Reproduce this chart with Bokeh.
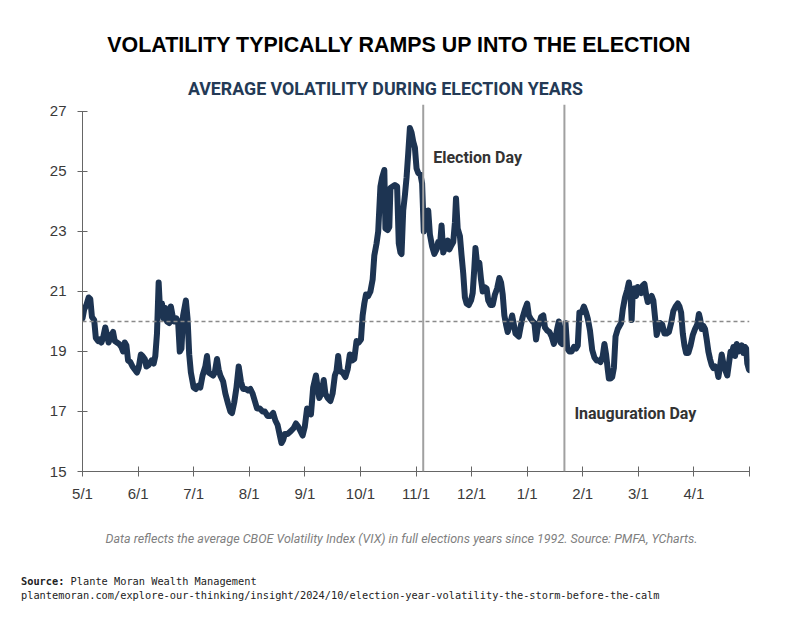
from bokeh.plotting import figure
from bokeh.layouts import column
from bokeh.models import Range1d, FixedTicker, Span, Label
from bokeh.embed import file_html
from bokeh.resources import INLINE

# ---- data: months since May 1 (fractional) and average VIX ----
months = [
    0.00, 0.03, 0.07, 0.11, 0.14, 0.17, 0.21, 0.24, 0.28, 0.31, 0.34, 0.37, 0.41, 0.44, 0.47, 0.51,
    0.55, 0.58, 0.62, 0.66, 0.70, 0.73, 0.76, 0.79, 0.82, 0.86, 0.90, 0.94, 0.98, 1.01, 1.05, 1.08,
    1.12, 1.15, 1.19, 1.24, 1.28, 1.31, 1.34, 1.37, 1.40, 1.43, 1.46, 1.49, 1.52, 1.56, 1.59, 1.62,
    1.65, 1.69, 1.72, 1.75, 1.78, 1.81, 1.86, 1.89, 1.92, 1.95, 2.00, 2.04, 2.08, 2.12, 2.16, 2.21,
    2.24, 2.27, 2.31, 2.35, 2.38, 2.42, 2.45, 2.48, 2.53, 2.57, 2.62, 2.66, 2.69, 2.73, 2.77, 2.81,
    2.85, 2.89, 2.94, 2.98, 3.02, 3.06, 3.10, 3.14, 3.19, 3.24, 3.28, 3.33, 3.38, 3.43, 3.47, 3.51,
    3.55, 3.58, 3.61, 3.64, 3.69, 3.75, 3.80, 3.84, 3.88, 3.92, 3.96, 4.00, 4.04, 4.08, 4.11, 4.15,
    4.20, 4.23, 4.26, 4.30, 4.34, 4.37, 4.41, 4.46, 4.50, 4.54, 4.57, 4.60, 4.63, 4.68, 4.73, 4.77,
    4.81, 4.85, 4.89, 4.93, 4.97, 5.01, 5.04, 5.07, 5.10, 5.14, 5.18, 5.22, 5.25, 5.29, 5.32, 5.36,
    5.39, 5.43, 5.45, 5.49, 5.52, 5.54, 5.58, 5.62, 5.66, 5.69, 5.72, 5.74, 5.77, 5.80, 5.83, 5.86,
    5.89, 5.92, 5.95, 5.98, 6.01, 6.04, 6.08, 6.11, 6.14, 6.18, 6.22, 6.25, 6.29, 6.33, 6.37, 6.40,
    6.43, 6.46, 6.49, 6.53, 6.57, 6.60, 6.64, 6.67, 6.70, 6.72, 6.75, 6.79, 6.82, 6.85, 6.88, 6.91,
    6.95, 6.99, 7.02, 7.05, 7.07, 7.10, 7.14, 7.17, 7.20, 7.23, 7.27, 7.30, 7.34, 7.38, 7.42, 7.46,
    7.50, 7.53, 7.56, 7.59, 7.62, 7.65, 7.69, 7.73, 7.76, 7.79, 7.82, 7.85, 7.88, 7.92, 7.96, 8.00,
    8.03, 8.06, 8.10, 8.13, 8.16, 8.19, 8.22, 8.25, 8.29, 8.32, 8.36, 8.40, 8.44, 8.48, 8.51, 8.54,
    8.57, 8.60, 8.63, 8.66, 8.69, 8.72, 8.76, 8.80, 8.84, 8.88, 8.91, 8.94, 8.98, 9.02, 9.06, 9.09,
    9.13, 9.17, 9.21, 9.25, 9.29, 9.32, 9.36, 9.39, 9.42, 9.45, 9.47, 9.50, 9.53, 9.56, 9.59, 9.63,
    9.66, 9.69, 9.72, 9.76, 9.80, 9.83, 9.86, 9.88, 9.90, 9.93, 9.96, 9.99, 10.02, 10.05, 10.08, 10.11,
    10.14, 10.17, 10.20, 10.24, 10.27, 10.30, 10.33, 10.36, 10.39, 10.43, 10.47, 10.51, 10.55, 10.59, 10.63, 10.67,
    10.71, 10.74, 10.77, 10.80, 10.83, 10.86, 10.90, 10.94, 10.98, 11.02, 11.06, 11.09, 11.11, 11.14, 11.17, 11.20,
    11.23, 11.26, 11.29, 11.32, 11.35, 11.38, 11.41, 11.44, 11.47, 11.50, 11.53, 11.56, 11.60, 11.63, 11.66, 11.69,
    11.71, 11.74, 11.77, 11.80, 11.83, 11.86, 11.89, 11.92, 11.94, 11.96, 11.99, 12.00,
]
vix = [
    20.10, 20.40, 20.55, 20.80, 20.75, 20.15, 20.05, 19.45, 19.35, 19.40, 19.30, 19.45, 19.80, 19.55, 19.30, 19.50,
    19.65, 19.35, 19.30, 19.25, 19.15, 19.00, 19.30, 19.20, 18.70, 18.65, 18.50, 18.40, 18.30, 18.45, 18.90, 18.85,
    18.75, 18.50, 18.55, 18.70, 18.60, 18.85, 19.60, 21.30, 20.20, 20.60, 20.10, 20.45, 20.00, 19.95, 20.50, 20.20,
    20.00, 20.10, 20.00, 19.00, 19.10, 20.20, 20.70, 20.10, 18.90, 18.30, 17.80, 17.75, 17.85, 17.80, 18.20, 18.50,
    18.85, 18.30, 18.25, 18.20, 18.30, 18.75, 18.40, 18.20, 18.00, 17.60, 17.25, 17.00, 16.95, 17.30, 17.80, 18.50,
    18.00, 17.75, 17.75, 17.70, 17.75, 17.60, 17.35, 17.10, 17.10, 17.00, 17.00, 16.85, 16.85, 16.95, 16.70, 16.55,
    16.20, 15.95, 16.05, 16.25, 16.25, 16.35, 16.45, 16.60, 16.50, 16.35, 16.20, 16.50, 17.10, 17.05, 16.90, 17.80,
    18.20, 17.80, 17.45, 17.60, 18.05, 17.60, 17.45, 17.35, 17.60, 18.20, 18.35, 18.85, 18.35, 18.30, 18.15, 18.40,
    18.90, 18.70, 18.75, 19.35, 19.30, 19.40, 20.20, 20.60, 20.90, 20.85, 21.00, 21.40, 22.20, 22.60, 23.00, 24.50,
    24.80, 25.05, 23.10, 23.05, 23.15, 24.45, 24.50, 24.55, 24.50, 22.60, 22.30, 22.25, 23.70, 24.20, 24.80, 25.60,
    26.45, 26.30, 26.00, 25.80, 25.10, 24.95, 24.90, 24.60, 23.00, 23.30, 23.70, 22.90, 22.50, 22.25, 22.40, 22.65,
    22.50, 23.20, 22.30, 22.50, 22.70, 22.40, 22.55, 22.65, 23.30, 24.10, 23.10, 22.85, 22.20, 21.60, 20.80, 20.60,
    20.55, 20.70, 20.95, 21.80, 22.45, 21.90, 21.95, 21.40, 21.00, 21.15, 21.10, 20.70, 20.55, 20.55, 20.90, 21.10,
    21.45, 21.30, 20.90, 20.20, 19.90, 19.65, 19.90, 20.20, 19.90, 19.60, 19.55, 19.50, 19.80, 20.15, 20.40, 20.60,
    20.20, 20.10, 20.00, 19.95, 19.40, 19.80, 19.95, 20.15, 20.20, 19.80, 19.70, 19.65, 19.50, 19.25, 19.45, 19.75,
    20.00, 19.30, 19.25, 19.35, 19.95, 19.10, 19.00, 19.00, 19.15, 19.10, 19.20, 20.30, 20.30, 20.50, 20.30, 20.10,
    19.70, 19.05, 18.80, 18.70, 18.70, 18.65, 18.85, 19.25, 18.90, 18.40, 18.10, 18.10, 18.15, 18.45, 19.50, 19.75,
    19.85, 19.95, 20.40, 20.80, 21.05, 21.30, 20.90, 20.05, 21.00, 21.10, 20.85, 21.15, 21.00, 20.95, 21.20, 21.25,
    20.90, 20.65, 20.70, 20.85, 20.70, 20.15, 19.55, 19.75, 19.95, 19.90, 19.60, 19.60, 19.65, 19.95, 20.35, 20.50,
    20.60, 20.50, 20.30, 19.60, 19.20, 18.95, 18.95, 19.20, 19.55, 19.75, 19.90, 20.25, 20.10, 19.75, 19.85, 19.75,
    19.40, 19.00, 18.75, 18.55, 18.45, 18.50, 18.45, 18.15, 18.50, 18.90, 18.60, 18.40, 18.20, 18.60, 19.00, 19.00,
    19.15, 18.85, 19.25, 19.00, 19.10, 19.20, 18.95, 19.15, 19.10, 18.60, 18.40, 18.38,
]

tick_positions = list(range(13))
tick_labels = ["5/1", "6/1", "7/1", "8/1", "9/1", "10/1", "11/1", "12/1",
               "1/1", "2/1", "3/1", "4/1", ""]
y_ticks = [15, 17, 19, 21, 23, 25, 27]
average_level = 20
election_day = 6.13
inauguration_day = 8.67

title_text = "VOLATILITY TYPICALLY RAMPS UP INTO THE ELECTION"
subtitle_text = "AVERAGE VOLATILITY DURING ELECTION YEARS"
note_text = ("Data reflects the average CBOE Volatility Index (VIX) in full elections "
             "years since 1992. Source: PMFA, YCharts.")
source_label = "Source:"
source_name = "Plante Moran Wealth Management"
source_url = ("plantemoran.com/explore-our-thinking/insight/2024/10/"
              "election-year-volatility-the-storm-before-the-calm")

NAVY = "#1d3452"
AXIS = "#666666"
COND = "Roboto"
MONO = "DejaVu Sans Mono"
W = 800


def blank(height, top):
    """A frame-only figure whose data units equal page pixels."""
    f = figure(width=W, height=height, output_backend="svg", toolbar_location=None,
               x_range=Range1d(0, W), y_range=Range1d(top + height, top),
               x_axis_type=None, y_axis_type=None, frame_align=False,
               min_border_left=0, min_border_right=0, min_border_top=0, min_border_bottom=0)
    f.outline_line_color = None
    f.xgrid.visible = False
    f.ygrid.visible = False
    f.background_fill_color = "white"
    f.border_fill_color = "white"
    return f


# ---- header ----
head = blank(100, 0)
head.add_layout(Label(x=399, y=44, text=title_text, text_font="Liberation Sans",
                      text_font_style="bold", text_font_size="21.4px", text_color="#000000",
                      text_align="center", text_baseline="middle"))
head.add_layout(Label(x=385, y=88, text=subtitle_text, text_font=COND,
                      text_font_style="bold", text_font_size="17.8px", text_color="#243a56",
                      text_align="center", text_baseline="middle"))

# ---- main chart ----
p = figure(width=W, height=410, output_backend="svg", toolbar_location=None,
           x_range=Range1d(0, 12), y_range=Range1d(15, 27.233), frame_align=False,
           min_border_left=82, min_border_right=51, min_border_top=4,
           min_border_bottom=39)
p.outline_line_color = None
p.xgrid.visible = False
p.ygrid.visible = False
p.background_fill_color = "white"
p.border_fill_color = "white"

p.xaxis.ticker = FixedTicker(ticks=tick_positions)
p.xaxis.major_label_overrides = {i: lab for i, lab in zip(tick_positions, tick_labels)}
p.yaxis.ticker = FixedTicker(ticks=y_ticks)
p.yaxis.bounds = (15, 27)
for ax in (p.xaxis, p.yaxis):
    ax.axis_line_color = AXIS
    ax.major_tick_line_color = AXIS
    ax.minor_tick_line_color = None
    ax.major_tick_in = 5
    ax.major_tick_out = 5
    ax.major_label_text_font = "Liberation Sans"
    ax.major_label_text_font_size = "15px"
    ax.major_label_text_color = "#3a3a3a"
p.xaxis.major_label_standoff = 8
p.yaxis.major_label_standoff = 11

p.add_layout(Span(location=average_level, dimension="width", line_color="#8a8a8a",
                  line_width=1.5, line_dash="4 3"))
for d in (election_day, inauguration_day):
    p.add_layout(Span(location=d, dimension="height", line_color="#a0a0a0", line_width=2))

p.line(months, vix, line_width=6, line_color=NAVY, line_join="round", line_cap="round")

p.add_layout(Label(x=election_day, x_offset=10, y=25.47, text="Election Day",
                   text_font=COND, text_font_style="bold", text_font_size="16px",
                   text_color="#333333", text_align="left", text_baseline="middle"))
p.add_layout(Label(x=inauguration_day, x_offset=10, y=16.93, text="Inauguration Day",
                   text_font=COND, text_font_style="bold", text_font_size="16px",
                   text_color="#333333", text_align="left", text_baseline="middle"))

# ---- footer ----
foot = blank(110, 510)
foot.add_layout(Label(x=401, y=538, text=note_text, text_font=COND,
                      text_font_style="italic", text_font_size="12.5px", text_color="#7f7f7f",
                      text_align="center", text_baseline="middle"))
foot.add_layout(Label(x=20.5, y=580, text=source_label, text_font=MONO,
                      text_font_style="bold", text_font_size="10.3px", text_color="#222222",
                      text_align="left", text_baseline="middle"))
foot.add_layout(Label(x=20.5 + 8 * 6.2, y=580, text=source_name, text_font=MONO,
                      text_font_size="10.3px", text_color="#222222",
                      text_align="left", text_baseline="middle"))
foot.add_layout(Label(x=20.5, y=594, text=source_url, text_font=MONO,
                      text_font_size="10.3px", text_color="#222222",
                      text_align="left", text_baseline="middle"))

layout = column(head, p, foot, spacing=0)
open("out.html", "w").write(file_html(layout, INLINE))
